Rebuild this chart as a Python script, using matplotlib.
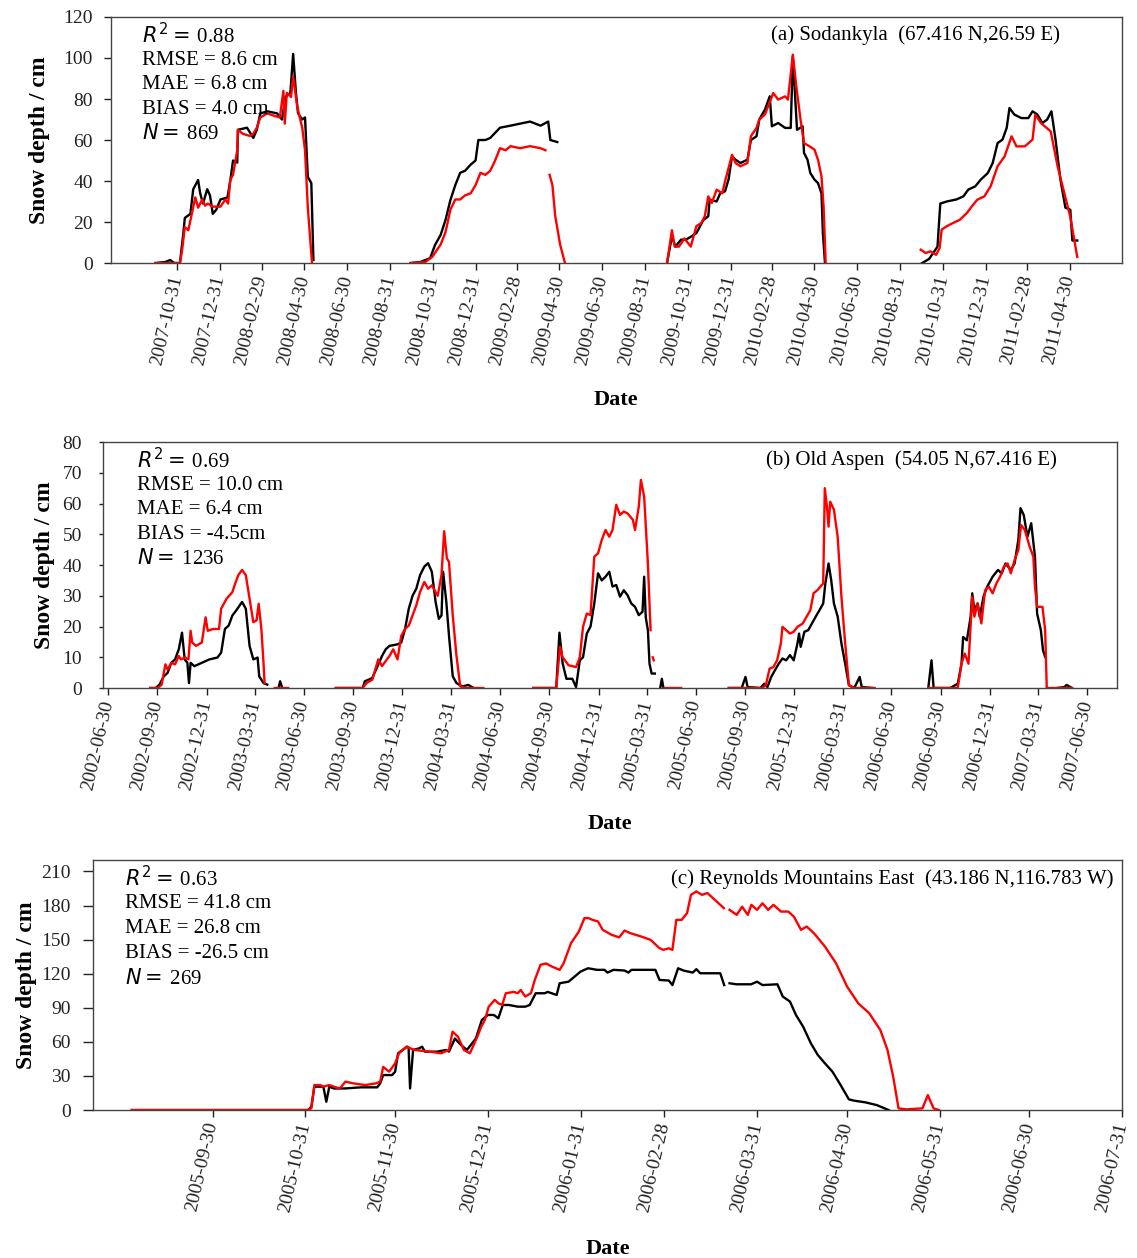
import numpy as np
import matplotlib
matplotlib.use('Agg')
import matplotlib.pyplot as plt
import matplotlib.dates as mdates

plt.rcParams['font.family'] = ['Liberation Serif', 'DejaVu Serif']
plt.rcParams['mathtext.fontset'] = 'dejavusans'

nan = np.nan

# (a) Sodankyla -- (days after 2007-10-31, snow depth cm); nan = gap in record
a_origin = '2007-10-31'
a_obs = [(-31, 0), (-17, 0.5), (-10, 1.5), (-4, 0), (4, 0), (9, 15), (11, 22), (19, 24), (23, 36), (30, 40.5),
         (33, 34), (37, 29), (43, 36), (47, 33), (51, 24), (56, 26), (62, 31), (72, 32), (76, 40), (80, 50),
         (86, 49), (87, 65), (100, 66), (109, 61), (114, 65), (119, 73), (129, 74), (143, 73), (150, 70),
         (155, 81), (162, 83), (166, 102), (170, 83), (173, 73), (179, 70), (183, 71), (187, 42), (192, 39),
         (195, 1.5), (200, nan),
         (334, 0), (348, 0.5), (362, 2.4), (369, 8.8), (377, 13.7), (384, 21), (391, 30.7), (398, 38), (405, 44),
         (412, 45), (420, 48), (427, 50), (431, 60), (441, 60), (448, 61), (462, 66), (477, 67), (491, 68),
         (505, 69), (520, 67), (531, 69), (534, 60), (544, 59), (550, nan),
         (701, 0), (708, 13), (713, 8), (721, 11.4), (728, 11.4), (736, 13), (743, 14.6), (753, 21), (760, 22.8),
         (762, 30.9), (772, 30), (777, 34), (784, 35), (789, 40.7), (794, 52), (799, 50.4), (806, 48.8),
         (816, 50.4), (821, 60), (829, 61.8), (833, 70), (841, 74.8), (848, 81.3), (851, 66.7), (860, 68.3),
         (870, 65.9), (878, 65.9), (881, 100.8), (887, 65), (895, 66.7), (897, 53.7), (902, 50.4), (906, 43.9),
         (912, 40.7), (917, 39), (922, 34), (924, 14.6), (927, 0), (935, nan),
         (1066, 0), (1076, 2), (1088, 8), (1092, 29), (1101, 30), (1115, 31), (1125, 32.5), (1132, 35.8),
         (1142, 37.4), (1150, 40.7), (1160, 43.9), (1167, 48.8), (1174, 58.5), (1181, 60.2), (1187, 65.9),
         (1191, 75.6), (1198, 72.4), (1208, 70.7), (1218, 70.7), (1224, 74), (1231, 72.4), (1238, 68.3),
         (1245, 70), (1251, 74), (1257, 60), (1264, 40.5), (1271, 27), (1278, 26), (1281, 11), (1288, 11)]
a_sim = [(-31, 0), (4, 0), (7, 6), (11, 17.5), (16, 16), (21, 24), (26, 32), (30, 27), (36, 31), (40, 28),
         (44, 29), (51, 27.5), (62, 27.5), (69, 31), (73, 29), (76, 40.5), (80, 43), (86, 55), (87, 65), (94, 63),
         (104, 62), (109, 63), (114, 66), (119, 71), (129, 73), (137, 72), (147, 71), (152, 84), (154, 68),
         (157, 83), (163, 81), (166, 91), (172, 76), (179, 66), (183, 55), (187, 27), (193, 0), (200, nan),
         (334, 0), (355, 0.5), (365, 3), (377, 9), (384, 15), (391, 26), (398, 31), (405, 31), (412, 33),
         (420, 34), (427, 38), (434, 44), (441, 43), (448, 45), (455, 50), (462, 56), (470, 55), (477, 57),
         (491, 56), (505, 57), (520, 56), (527, 55), (530, nan), (533, 43), (537, 38), (541, 23), (548, 9),
         (555, 0), (560, nan),
         (701, 0), (708, 16), (712, 8), (718, 8), (726, 12), (735, 8), (743, 18), (750, 19.5), (755, 22.8),
         (760, 32.5), (765, 29.3), (772, 35.8), (780, 34), (784, 39.8), (794, 52.8), (799, 48.8), (806, 47.2),
         (816, 48.8), (821, 61.8), (829, 65.9), (833, 70), (841, 72.4), (853, 82.9), (860, 79.7), (870, 81.3),
         (874, 79.7), (881, 101.6), (886, 86.2), (892, 70), (897, 58.5), (905, 56.9), (912, 55.3), (917, 50.4),
         (922, 42.3), (925, 27.6), (928, 0), (935, nan),
         (1064, 6.5), (1071, 4.9), (1078, 5.7), (1086, 4), (1091, 7.3), (1094, 16.3), (1101, 17.9), (1110, 19.5),
         (1120, 21.1), (1130, 24.4), (1137, 27.6), (1145, 30.9), (1155, 32.5), (1164, 37.4), (1174, 47.2),
         (1184, 52), (1194, 61.8), (1201, 56.9), (1213, 56.9), (1224, 60.2), (1228, 72.4), (1236, 68.3),
         (1250, 64.2), (1260, 47), (1271, 32), (1278, 22.5), (1288, 3)]

# (b) Old Aspen -- days after 2002-06-30
b_origin = '2002-06-30'
b_obs = [(79, 0), (89, 0), (96, 1.1), (104, 3.8), (111, 4.9), (118, 8.2), (125, 9.3), (132, 12.6), (138, 18),
         (143, 9.3), (148, 8.2), (151, 1.6), (154, 8.2), (161, 7.1), (175, 8.2), (189, 9.3), (204, 9.9),
         (211, 11.5), (218, 19.2), (225, 20.3), (232, 23.6), (239, 25.2), (250, 28), (257, 25.8), (264, 13.7),
         (271, 9.3), (279, 9.9), (282, 3.8), (290, 1.6), (297, 1.1), (300, nan), (318, 0), (321, 2.2), (325, 0),
         (330, nan),
         (425, 0), (475, 0), (479, 2.2), (486, 2.7), (493, 3.3), (500, 6), (511, 10.4), (518, 12.6), (525, 13.7),
         (540, 14.2), (547, 14.8), (554, 19.2), (561, 25.8), (568, 30), (575, 32.3), (582, 36.7), (590, 39.5),
         (597, 40.6), (604, 37.8), (611, 28), (617, 22.5), (622, 23.6), (625, 37.8), (631, 28), (636, 17),
         (643, 3.8), (650, 1.6), (661, 0.5), (672, 1), (682, 0), (690, nan),
         (793, 0), (836, 0), (842, 18), (848, 8), (855, 3), (866, 3), (873, 0.3), (880, 9), (886, 10), (893, 17.7),
         (900, 20), (907, 27.5), (914, 37.3), (921, 35), (928, 36.2), (935, 37.8), (941, 33), (948, 33.5),
         (955, 29.7), (962, 31.8), (969, 30.2), (976, 27.5), (983, 26.4), (990, 23.7), (997, 24.8), (1000, 36.2),
         (1003, 23), (1007, 18.8), (1010, 7.9), (1014, 4.7), (1020, 4.7), (1025, nan), (1030, 0), (1033, 3),
         (1036, 0), (1040, nan),
         (1158, 0), (1182, 0), (1189, 3.6), (1193, 0.3), (1217, 0), (1224, 1.4), (1230, 0.3), (1237, 3.6),
         (1244, 5.8), (1251, 7.9), (1258, 9.6), (1265, 9), (1272, 10.7), (1279, 9), (1286, 14.5), (1289, 17.7),
         (1292, 13.4), (1299, 18.3), (1306, 18.8), (1313, 21), (1320, 23.2), (1327, 25.3), (1334, 27.5),
         (1338, 34), (1344, 40.5), (1349, 35), (1354, 27.5), (1361, 23.2), (1368, 14.5), (1375, 7.9),
         (1382, 0.9), (1392, 0), (1402, 3.6), (1406, 0.3), (1427, 0), (1440, nan),
         (1530, 0), (1536, 9), (1540, 0), (1571, 0), (1585, 1.4), (1592, 7.9), (1595, 16.6), (1602, 15.5),
         (1609, 23.2), (1612, 30.8), (1616, 25.3), (1622, 27.5), (1626, 23.2), (1633, 29.7), (1640, 33),
         (1650, 36.2), (1660, 38.4), (1667, 37.3), (1674, 40.5), (1684, 38.4), (1691, 40.5), (1698, 48.2),
         (1702, 58.5), (1708, 56.3), (1715, 49.2), (1722, 53.6), (1729, 42.7), (1733, 24.2), (1740, 18.8),
         (1744, 12.3), (1748, 10.1), (1755, nan), (1770, 0), (1784, 0.3), (1788, 1), (1798, 0)]
b_sim = [(79, 0), (93, 0), (100, 1.1), (107, 7.7), (111, 6), (118, 8.2), (125, 7.7), (132, 10.4), (136, 9.3),
         (143, 9.9), (150, 9.3), (154, 18.6), (157, 14.8), (164, 13.7), (175, 14.8), (182, 23), (186, 18.6),
         (196, 19.2), (207, 19.2), (211, 25.8), (221, 29), (232, 31.2), (236, 33.4), (243, 36.7), (250, 38.4),
         (257, 36.7), (264, 29), (271, 21.4), (277, 22), (281, 27.4), (286, 19.2), (290, 8.2), (292, 1.6),
         (300, nan), (311, 0), (336, 0), (340, nan),
         (425, 0), (475, 0), (482, 1.6), (493, 2.7), (504, 9.3), (511, 7.1), (518, 8.8), (525, 10.4),
         (532, 12.6), (540, 9.3), (547, 17), (554, 19.2), (561, 20.3), (568, 23.6), (575, 26.9), (582, 31.2),
         (590, 34.5), (597, 32.3), (604, 33.4), (615, 30), (622, 36.7), (627, 51), (632, 42.2), (636, 41),
         (643, 23.6), (650, 10.4), (657, 0.5), (668, 0), (700, 0), (705, nan),
         (793, 0), (836, 0), (843, 13.4), (848, 10), (859, 7.4), (873, 6.8), (880, 10), (886, 19.9), (893, 24.2),
         (900, 23.7), (907, 42.7), (914, 43.8), (921, 48.2), (928, 51.4), (935, 49.2), (941, 51.4), (948, 59.6),
         (955, 56.3), (962, 57.4), (969, 56.8), (979, 54.7), (983, 51.4), (990, 59), (994, 67.7), (1000, 62.3),
         (1007, 40.5), (1012, 18.8), (1014, nan), (1016, 10), (1018, 9), (1025, nan), (1038, 0), (1069, 0),
         (1075, nan),
         (1158, 0), (1220, 0), (1227, 0.9), (1234, 6.3), (1241, 6.8), (1248, 9), (1255, 14.5), (1258, 19.9),
         (1265, 18.8), (1272, 17.7), (1279, 18.3), (1286, 19.9), (1296, 21), (1303, 23.2), (1310, 25.3),
         (1316, 30.8), (1323, 31.8), (1334, 34), (1337, 65), (1341, 59), (1344, 52.5), (1347, 60.6), (1354, 58),
         (1361, 49.2), (1368, 29.7), (1375, 14.5), (1382, 0.9), (1392, 0), (1430, 0), (1440, nan),
         (1530, 0), (1585, 0), (1592, 7.9), (1598, 11.2), (1605, 7.9), (1612, 29.7), (1616, 23.2), (1622, 27.5),
         (1629, 21), (1636, 31.8), (1643, 33), (1650, 30.8), (1657, 34), (1664, 36.2), (1671, 39.5), (1678, 40.5),
         (1684, 37.3), (1691, 41.6), (1698, 44.9), (1703, 53), (1710, 51.4), (1719, 46), (1726, 42.7), (1729, 33),
         (1733, 26.4), (1743, 26.4), (1748, 18.8), (1751, 0), (1798, 0)]

# (c) Reynolds Mountains East -- days after 2005-09-30
c_origin = '2005-09-30'
c_obs = [(-27, 0), (32, 0), (33, 3), (34, 20.6), (37, 20.6), (38, 7.3), (39, 20.6), (40.5, 19), (44, 19),
         (49.5, 20), (55, 20), (56, 23.5), (57, 30.8), (60, 30.8), (61, 33.8), (62, 50), (65, 55.8), (65.5, 55),
         (66, 19), (67, 52.9), (69, 54.3), (70, 55.8), (71, 51.4), (75, 51.4), (78, 52.9), (79, 51.4), (81, 63),
         (83, 57.3), (85, 52.9), (88, 63), (90, 79.3), (92, 83.7), (94, 83.7), (95.5, 80.8), (97, 92.5),
         (99, 92.5), (102, 91), (104.5, 91), (106, 92.5), (108, 102.8), (111, 102.8), (112, 104), (115, 101.3),
         (116, 111.6), (119, 113), (123, 121.9), (125.5, 124.8), (128.5, 123.4), (131, 123.4), (132, 121),
         (134, 123.4), (137.7, 122.8), (139, 121), (140, 123.4), (148, 123.4), (149.4, 114.5), (152.5, 114),
         (153.7, 110), (155.6, 124.8), (157.4, 122.8), (160.5, 121), (161.7, 124), (163, 120.4), (169.7, 120.4),
         (171, 110), (172, nan), (172.8, 111.6), (175, 110.7), (180, 110.7), (182, 113), (183.8, 110),
         (188.8, 110.7), (190.6, 99.9), (193, 95.5), (195, 83.7), (197.4, 73.4), (200, 58.7), (202.3, 48.5),
         (204.7, 41.1), (207.2, 33.8), (209.6, 23.5), (212.7, 9.4), (214.6, 8.2), (218.2, 6.8), (222, 4.4),
         (226, 0)]
c_sim = [(-27, 0), (31.6, 0), (33, 1.5), (34, 22), (36, 22), (37, 20.6), (39, 22), (40.5, 20.6), (42.5, 19),
         (44.4, 25), (47, 23.5), (51, 22), (54.6, 23.5), (56, 25), (57, 38), (59, 33.8), (61, 41), (62.3, 50),
         (64.8, 55.8), (67.4, 52.9), (72.5, 51.4), (76.4, 50), (79, 52.9), (80.2, 69), (82, 64.6), (84, 52.9),
         (86, 50), (88.5, 64.6), (89.8, 73.4), (91, 79.3), (92.3, 91), (94.3, 97), (95.5, 94), (96.8, 92.5),
         (98, 102.8), (100.7, 104), (102, 102.8), (103, 105.7), (104.5, 99.9), (106.4, 102.8), (107.7, 114.5),
         (109.6, 127.8), (111.5, 129), (113.4, 126.3), (116, 123.4), (117.3, 129), (119.8, 146.9), (122.4, 157),
         (124.3, 169), (125.6, 169), (127, 167.4), (128.8, 166), (130.4, 158.6), (133.4, 154.2), (135.9, 152),
         (137.7, 158), (139.6, 155.7), (143.3, 152.7), (146.4, 149.8), (149.4, 142.4), (150.7, 141),
         (152.5, 142.4), (153.7, 141), (155, 167.4), (156.8, 167.4), (158.6, 173.3), (159.9, 189.4),
         (161.7, 192.4), (163.6, 189.4), (165.4, 191), (167.9, 185), (170.9, 177.7), (171.8, nan),
         (172.8, 176.2), (175.2, 171.8), (177, 179), (178.9, 171.8), (180.1, 180.6), (182, 176.2), (183.8, 182),
         (185.7, 176.2), (187.5, 180.6), (190, 174.7), (192.4, 174.7), (194.3, 170.3), (196.7, 158.6),
         (198.6, 161.5), (201, 155.7), (204.7, 143.9), (208.4, 129.2), (212.1, 108.7), (215.8, 94), (219.5, 85.2),
         (223.2, 70.5), (225.6, 52.9), (227.5, 29.4), (229.3, 1.5), (231.8, 0.6), (237.3, 1.5), (239.1, 13.2),
         (241, 1.5), (242.8, 0)]

a_ticks = ['2007-10-31', '2007-12-31', '2008-02-29', '2008-04-30', '2008-06-30', '2008-08-31', '2008-10-31',
           '2008-12-31', '2009-02-28', '2009-04-30', '2009-06-30', '2009-08-31', '2009-10-31', '2009-12-31',
           '2010-02-28', '2010-04-30', '2010-06-30', '2010-08-31', '2010-10-31', '2010-12-31', '2011-02-28',
           '2011-04-30']
b_ticks = ['2002-06-30', '2002-09-30', '2002-12-31', '2003-03-31', '2003-06-30', '2003-09-30', '2003-12-31',
           '2004-03-31', '2004-06-30', '2004-09-30', '2004-12-31', '2005-03-31', '2005-06-30', '2005-09-30',
           '2005-12-31', '2006-03-31', '2006-06-30', '2006-09-30', '2006-12-31', '2007-03-31', '2007-06-30']
c_ticks = ['2005-09-30', '2005-10-31', '2005-11-30', '2005-12-31', '2006-01-31', '2006-02-28', '2006-03-31',
           '2006-04-30', '2006-05-31', '2006-06-30', '2006-07-31']

a_stats = [r'$R^2=\,$0.88', 'RMSE = 8.6 cm', 'MAE = 6.8 cm', 'BIAS = 4.0 cm', r'$N=\,$869']
b_stats = [r'$R^2=\,$0.69', 'RMSE = 10.0 cm', 'MAE = 6.4 cm', 'BIAS = -4.5cm', r'$N=\,$1236']
c_stats = [r'$R^2=\,$0.63', 'RMSE = 41.8 cm', 'MAE = 26.8 cm', 'BIAS = -26.5 cm', r'$N=\,$269']

a_title = '(a) Sodankyla  (67.416 N,26.59 E)'
b_title = '(b) Old Aspen  (54.05 N,67.416 E)'
c_title = '(c) Reynolds Mountains East  (43.186 N,116.783 W)'


def series(origin, pts):
    d = np.array([p[0] for p in pts], dtype=float)
    v = np.array([p[1] for p in pts], dtype=float)
    return mdates.datestr2num(origin) + d, v


def panel(rect, origin, obs, sim, ticks, xlim, ylim, ystep, stats, title,
          title_x, stats_x, ylab_x, ytick_len, ytick_pad):
    ax = fig.add_axes(rect)
    x, y = series(origin, obs)
    ax.plot(x, y, color='black', lw=1.7)
    x, y = series(origin, sim)
    ax.plot(x, y, color='#ff0000', lw=1.7)

    ax.set_xlim(mdates.datestr2num(xlim[0]), mdates.datestr2num(xlim[1]))
    ax.set_ylim(*ylim)
    ax.set_yticks(np.arange(0, ylim[1] + 0.1, ystep)[:int(ylim[1] // ystep) + 1])
    ax.set_xticks(mdates.datestr2num(ticks))
    ax.set_xticklabels(ticks, rotation=77, ha='right', va='center',
                       rotation_mode='anchor', fontsize=14)
    ax.tick_params(axis='x', direction='out', length=5, width=1, pad=4, colors='#222')
    ax.tick_params(axis='y', direction='out', length=ytick_len, width=1, pad=ytick_pad,
                   labelsize=14, colors='#222')
    for s in ax.spines.values():
        s.set_color('#444')
        s.set_linewidth(1)

    ax.set_ylabel('Snow depth / cm', fontsize=17, fontweight='bold', va='center')
    ax.yaxis.set_label_coords(ylab_x, 0.5)
    ax.set_xlabel('Date', fontsize=16, fontweight='bold', va='center')
    ax.xaxis.set_label_coords(0.5, -0.555)

    ax.text(title_x, 0.925, title, transform=ax.transAxes, ha='right', va='center', fontsize=15)
    for i, t in enumerate(stats):
        ax.text(stats_x, 0.925 - i * 0.1, t, transform=ax.transAxes,
                ha='left', va='center', fontsize=15)
    return ax


fig = plt.figure(figsize=(11.37, 12.58), dpi=100)

panel([0.0974, 0.7909, 0.8894, 0.1956], a_origin, a_obs, a_sim, a_ticks,
      ('2007-07-28', '2011-07-14'), (0, 120), 20, a_stats, a_title, 0.939, 0.031, -0.07, 5, 8)
panel([0.0903, 0.4531, 0.8921, 0.1955], b_origin, b_obs, b_sim, b_ticks,
      ('2002-06-20', '2007-08-25'), (0, 80), 10, b_stats, b_title, 0.941, 0.034, -0.057, 3, 12)
panel([0.0818, 0.1176, 0.9050, 0.1987], c_origin, c_obs, c_sim, c_ticks,
      ('2005-08-21', '2006-07-31'), (0, 220), 30, c_stats, c_title, 0.992, 0.031, -0.065, 7, 9)

fig.savefig('out.png', dpi=100)
